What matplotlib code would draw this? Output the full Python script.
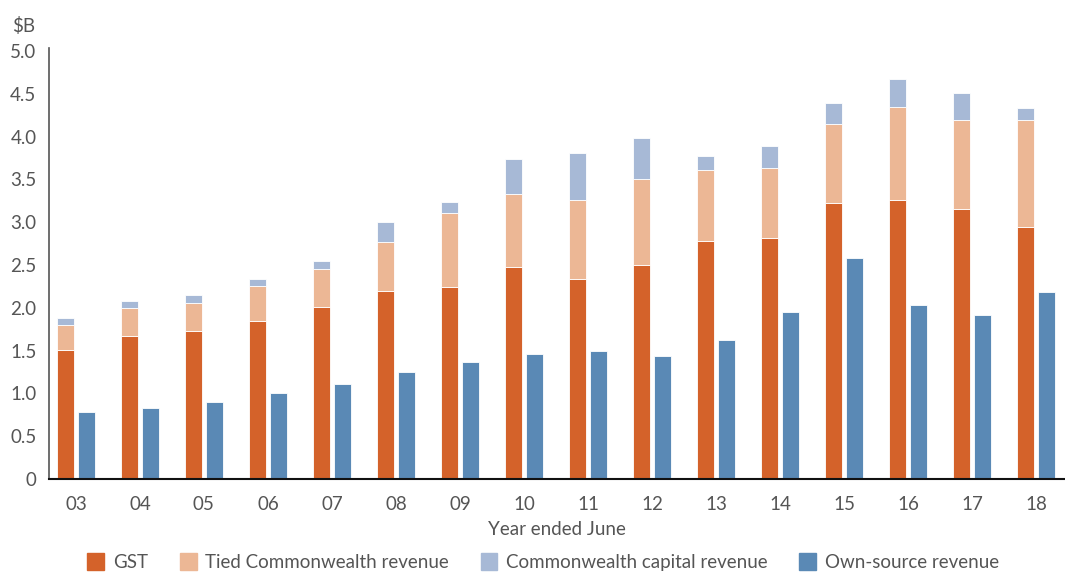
import numpy as np
import matplotlib
matplotlib.use("Agg")
import matplotlib.pyplot as plt
from matplotlib.patches import Patch

years = ["03", "04", "05", "06", "07", "08", "09", "10",
         "11", "12", "13", "14", "15", "16", "17", "18"]
gst = [1.51, 1.67, 1.73, 1.85, 2.01, 2.20, 2.24, 2.48,
       2.34, 2.50, 2.78, 2.82, 3.22, 3.26, 3.15, 2.94]
tied = [0.29, 0.33, 0.33, 0.40, 0.44, 0.57, 0.87, 0.85,
        0.92, 1.00, 0.83, 0.82, 0.93, 1.09, 1.04, 1.26]
capital = [0.08, 0.08, 0.09, 0.09, 0.10, 0.23, 0.13, 0.41,
           0.55, 0.48, 0.16, 0.25, 0.24, 0.33, 0.32, 0.13]
own_source = [0.78, 0.83, 0.90, 1.00, 1.11, 1.25, 1.37, 1.46,
              1.50, 1.44, 1.63, 1.95, 2.58, 2.03, 1.92, 2.19]

c_gst = "#D4622A"
c_tied = "#ECB795"
c_cap = "#A7B9D6"
c_own = "#5A89B5"
text_col = "#555555"

plt.rcParams["font.family"] = ["Lato", "DejaVu Sans"]
fs = 13.5

fig = plt.figure(figsize=(10.65, 5.72), dpi=100)
ax = fig.add_axes([0.046, 0.1626, 0.954, 0.754])

x = np.arange(len(years))
w = 0.265
off = 0.168
gst = np.array(gst)
tied = np.array(tied)
capital = np.array(capital)

edge = dict(edgecolor="white", linewidth=0.6)
ax.bar(x - off, gst, w, color=c_gst, **edge)
ax.bar(x - off, tied, w, bottom=gst, color=c_tied, **edge)
ax.bar(x - off, capital, w, bottom=gst + tied, color=c_cap, **edge)
ax.bar(x + off, own_source, w, color=c_own, **edge)

ax.set_xlim(-0.42, 15.45)
ax.set_ylim(0, 5.04)
ax.set_xticks(x)
ax.set_xticklabels(years)
yt = np.arange(0, 5.01, 0.5)
ax.set_yticks(yt)
ax.set_yticklabels(["0"] + [f"{v:.1f}" for v in yt[1:]])
ax.tick_params(length=0, labelsize=fs, colors=text_col, pad=9)
ax.tick_params(axis="x", pad=12)

for s in ("top", "right"):
    ax.spines[s].set_visible(False)
ax.spines["left"].set_color("#555555")
ax.spines["left"].set_linewidth(1.2)
ax.spines["bottom"].set_color("#111111")
ax.spines["bottom"].set_linewidth(1.5)

ax.set_xlabel("Year ended June", fontsize=fs, color=text_col, labelpad=6)
fig.text(0.011, 0.955, "$B", fontsize=fs, color=text_col, va="center")

handles = [Patch(color=c_gst), Patch(color=c_tied), Patch(color=c_cap), Patch(color=c_own)]
labels = ["GST", "Tied Commonwealth revenue", "Commonwealth capital revenue", "Own-source revenue"]
fig.legend(handles, labels, loc="center", bbox_to_anchor=(0.51, 0.017), ncol=4,
           frameon=False, fontsize=fs, handlelength=0.9, handleheight=1.0,
           handletextpad=0.45, columnspacing=1.7, labelcolor=text_col)

fig.savefig("out.png", dpi=100)
